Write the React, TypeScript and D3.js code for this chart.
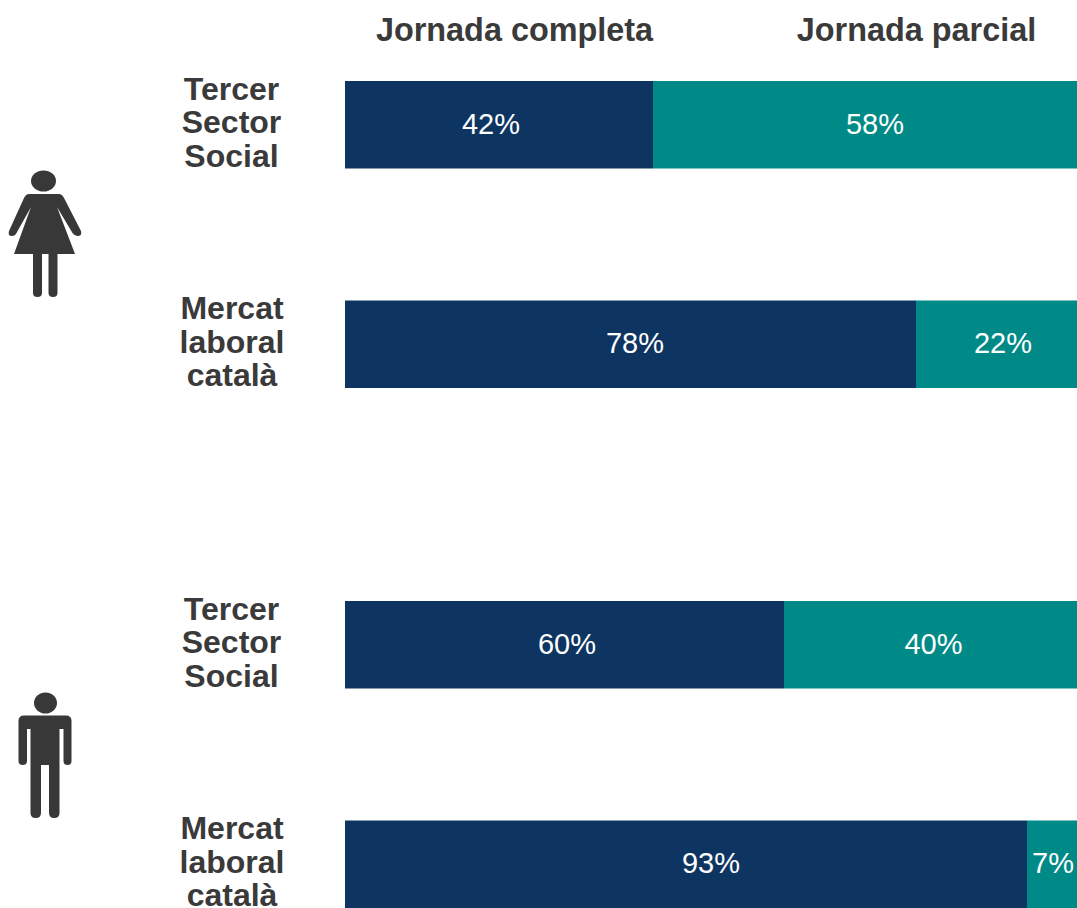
import React from "react";
import * as d3 from "d3";

const headers = ["Jornada completa", "Jornada parcial"];
const rowLabels = [
  ["Tercer", "Sector", "Social"],
  ["Mercat", "laboral", "català"],
  ["Tercer", "Sector", "Social"],
  ["Mercat", "laboral", "català"],
];
const rowIds = ["d-tss", "d-mlc", "h-tss", "h-mlc"];
const fullTimeLabels = [42, 78, 60, 93];
const partTimeLabels = [58, 22, 40, 7];
const fullTimeShare = [42.1, 78, 60, 93.2];

// layout
const rowTops = [81, 300.5, 601, 820.5];
const labelX = [231.5, 232, 231.5, 232];
const fullLabelX = [491, 635, 567, 711];
const partLabelX = [875, 1003, 933.5, 1053];
const fontFamily = '"Liberation Sans", Arial, sans-serif';
const navy = "#0e3561";
const teal = "#008a87";
const ink = "#3a3a3a";

const x = d3.scaleLinear().domain([0, 100]).range([345, 1077]);
const barH = 87.5;

function Woman() {
  return (
    <g fill="#383838">
      <ellipse cx={43.5} cy={181} rx={12.5} ry={10.5} />
      <path d="M29 194 L59 194 Q62 194 64 198 L81 231 Q82.500 236 77.500 236 Q74.500 236 72.500 233 L57 207 L75 254 L14 254 L31 207 L16.500 233 Q15 236 12 236 Q7.500 236 9 231 L24 198 Q26 194 29 194 Z" />
      <path d="M33 252 L42 252 L42 293 Q42 297 37.500 297 Q33 297 33 293 Z" />
      <path d="M48.500 252 L57.500 252 L57.500 293 Q57.500 297 53 297 Q48.500 297 48.500 293 Z" />
    </g>
  );
}

function Man() {
  return (
    <g fill="#383838">
      <ellipse cx={45.500} cy={703} rx={11.500} ry={10.500} />
      <path d="M24 715.500 L66 715.500 Q71.500 715.500 71.500 721 L71.500 761 Q71.500 765 67.500 765 Q63.500 765 63.500 761 L63.500 729 L59.500 729 L59.500 813 Q59.500 818 54.250 818 Q49 818 49 813 L49 765 L41 765 L41 813 Q41 818 35.750 818 Q30.500 818 30.500 813 L30.500 729 L27 729 L27 761 Q27 765 22.750 765 Q18.500 765 18.500 761 L18.500 721 Q18.500 715.500 24 715.500 Z" />
    </g>
  );
}

export default function App() {
  return (
    <svg
      width={1077}
      height={908}
      viewBox="0 0 1077 908"
      style={{ position: "absolute", left: 0, top: 0, background: "#fff" }}
      fontFamily={fontFamily}
    >
      <text x={514.500} y={40.500} textAnchor="middle" fontSize={32.400} fontWeight={700} fill={ink}>{headers[0]}</text>
      <text x={916.500} y={40.500} textAnchor="middle" fontSize={32.400} fontWeight={700} fill={ink}>{headers[1]}</text>
      <Woman />
      <Man />
      {rowIds.map((id, i) => {
        const split = Math.round(x(fullTimeShare[i]));
        const y0 = rowTops[i];
        return (
          <g key={id}>
            <rect x={x(0)} y={y0} width={split - x(0)} height={barH} fill={navy} />
            <rect x={split} y={y0} width={x(100) - split} height={barH} fill={teal} />
            <text x={fullLabelX[i]} y={y0 + 52.500} textAnchor="middle" fontSize={29} fill="#fff">{fullTimeLabels[i]}%</text>
            <text x={partLabelX[i]} y={y0 + 52.500} textAnchor="middle" fontSize={29} fill="#fff">{partTimeLabels[i]}%</text>
            {rowLabels[i].map((line, j) => (
              <text key={j} x={labelX[i]} y={y0 + 18.500 + j * 33.500} textAnchor="middle" fontSize={32} fontWeight={700} fill={ink}>{line}</text>
            ))}
          </g>
        );
      })}
    </svg>
  );
}
